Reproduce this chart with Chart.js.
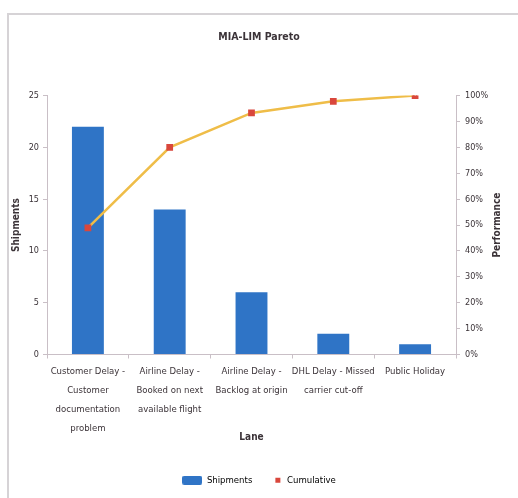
<!DOCTYPE html>
<html>
<head>
<meta charset="utf-8">
<script src="https://cdn.jsdelivr.net/npm/chart.js@4.4.1/dist/chart.umd.min.js"></script>
<style>
  html, body { margin: 0; padding: 0; background: #ffffff; }
  #frame {
    position: absolute; left: 7px; top: 13px; width: 520px; height: 500px;
    border-left: 2px solid #d6d3d6; border-top: 2px solid #d6d3d6;
  }
  #wrap { position: absolute; left: 0; top: 0; width: 518px; height: 498px; }
</style>
</head>
<body>
<div id="frame"></div>
<div id="wrap"><canvas id="chart" width="518" height="498"></canvas></div>
<script>
// Pareto of shipment delays by lane
const lanes = [
  ["Customer Delay -", "Customer", "documentation", "problem"],
  ["Airline Delay -", "Booked on next", "available flight"],
  ["Airline Delay -", "Backlog at origin"],
  ["DHL Delay - Missed", "carrier cut-off"],
  ["Public Holiday"]
];
const shipments = [22, 14, 6, 2, 1];
const cumulativePct = [48.9, 80, 93.3, 97.8, 100];

const FONT = "'Liberation Sans Narrow', 'DejaVu Sans Condensed', 'Liberation Sans', sans-serif";
const TEXT = '#3b3338';
const AXIS = '#c9bfc6';
const BAR = '#2f74c6';
const MARK = '#d9473c';

// Legend swatches: a wide bar swatch and a small marker square
function swatch(w, h, draw) {
  const c = document.createElement('canvas');
  c.width = w; c.height = h;
  draw(c.getContext('2d'));
  return c;
}
const barSwatch = swatch(20, 9, g => {
  g.fillStyle = BAR;
  g.beginPath();
  g.roundRect(0, 0, 20, 9, 2);
  g.fill();
});
const markSwatch = swatch(20, 9, g => {
  g.fillStyle = MARK;
  g.fillRect(13, 2, 5, 5);
});

// Right-hand axis title, rotated to read bottom-to-top
const rightTitle = {
  id: 'rightTitle',
  afterDraw(chart) {
    const ctx = chart.ctx;
    const s = chart.scales.y1;
    ctx.save();
    ctx.translate(497, (s.top + s.bottom) / 2);
    ctx.rotate(-Math.PI / 2);
    ctx.font = "bold 10px " + FONT;
    ctx.fillStyle = TEXT;
    ctx.textAlign = 'center';
    ctx.textBaseline = 'middle';
    ctx.fillText('Performance', 0, 0);
    ctx.restore();
  }
};

new Chart(document.getElementById('chart'), {
  type: 'bar',
  data: {
    labels: lanes,
    datasets: [
      {
        type: 'line',
        label: 'Cumulative',
        data: cumulativePct,
        yAxisID: 'y1',
        borderColor: '#efbd48',
        borderWidth: 2.5,
        pointStyle: 'rect',
        pointRadius: 3,
        pointBackgroundColor: MARK,
        pointBorderColor: MARK,
        tension: 0,
        order: 0
      },
      {
        type: 'bar',
        label: 'Shipments',
        data: shipments,
        yAxisID: 'y',
        backgroundColor: BAR,
        barPercentage: 0.39,
        categoryPercentage: 1.0,
        order: 1
      }
    ]
  },
  options: {
    responsive: false,
    animation: false,
    layout: { padding: { left: 0, right: 0, top: 0, bottom: 3 } },
    plugins: {
      title: {
        display: true,
        text: 'MIA-LIM Pareto',
        color: TEXT,
        font: { family: FONT, size: 10.5, weight: 'bold' },
        padding: { top: 31, bottom: 52 }
      },
      legend: {
        position: 'bottom',
        labels: {
          color: TEXT,
          font: { family: FONT, size: 9.5 },
          padding: 10,
          usePointStyle: true,
          pointStyleWidth: 20,
          boxHeight: 9,
          generateLabels() {
            return [
              { text: 'Shipments', pointStyle: barSwatch, fillStyle: BAR, strokeStyle: BAR, lineWidth: 0, datasetIndex: 1 },
              { text: 'Cumulative', pointStyle: markSwatch, fillStyle: MARK, strokeStyle: MARK, lineWidth: 0, datasetIndex: 0 }
            ];
          }
        }
      },
      tooltip: { enabled: false }
    },
    scales: {
      x: {
        grid: { display: true, drawOnChartArea: false, color: AXIS, tickLength: 4, offset: true },
        border: { color: AXIS },
        ticks: {
          color: TEXT,
          font: { family: FONT, size: 9.5, lineHeight: 2 },
          maxRotation: 0,
          autoSkip: false,
          padding: 4
        },
        title: {
          display: true,
          text: 'Lane',
          color: TEXT,
          font: { family: FONT, size: 10, weight: 'bold' },
          padding: { top: 0, bottom: 22 }
        },
        afterFit(scale) { scale.height = 111; }
      },
      y: {
        position: 'left',
        min: 0, max: 25,
        ticks: { stepSize: 5, color: TEXT, font: { family: FONT, size: 9 }, padding: 4 },
        grid: { display: true, drawOnChartArea: false, color: AXIS, tickLength: 4 },
        border: { color: AXIS },
        title: {
          display: true,
          text: 'Shipments',
          color: TEXT,
          font: { family: FONT, size: 10, weight: 'bold' },
          padding: { top: 10, bottom: 0 }
        },
        afterFit(scale) { scale.width = 47; }
      },
      y1: {
        position: 'right',
        min: 0, max: 100,
        ticks: {
          stepSize: 10, color: TEXT, font: { family: FONT, size: 9 }, padding: 5,
          callback: v => v + '%'
        },
        grid: { display: true, drawOnChartArea: false, color: AXIS, tickLength: 4 },
        border: { color: AXIS },
        afterFit(scale) { scale.width = 62; }
      }
    }
  },
  plugins: [rightTitle]
});
</script>
</body>
</html>
